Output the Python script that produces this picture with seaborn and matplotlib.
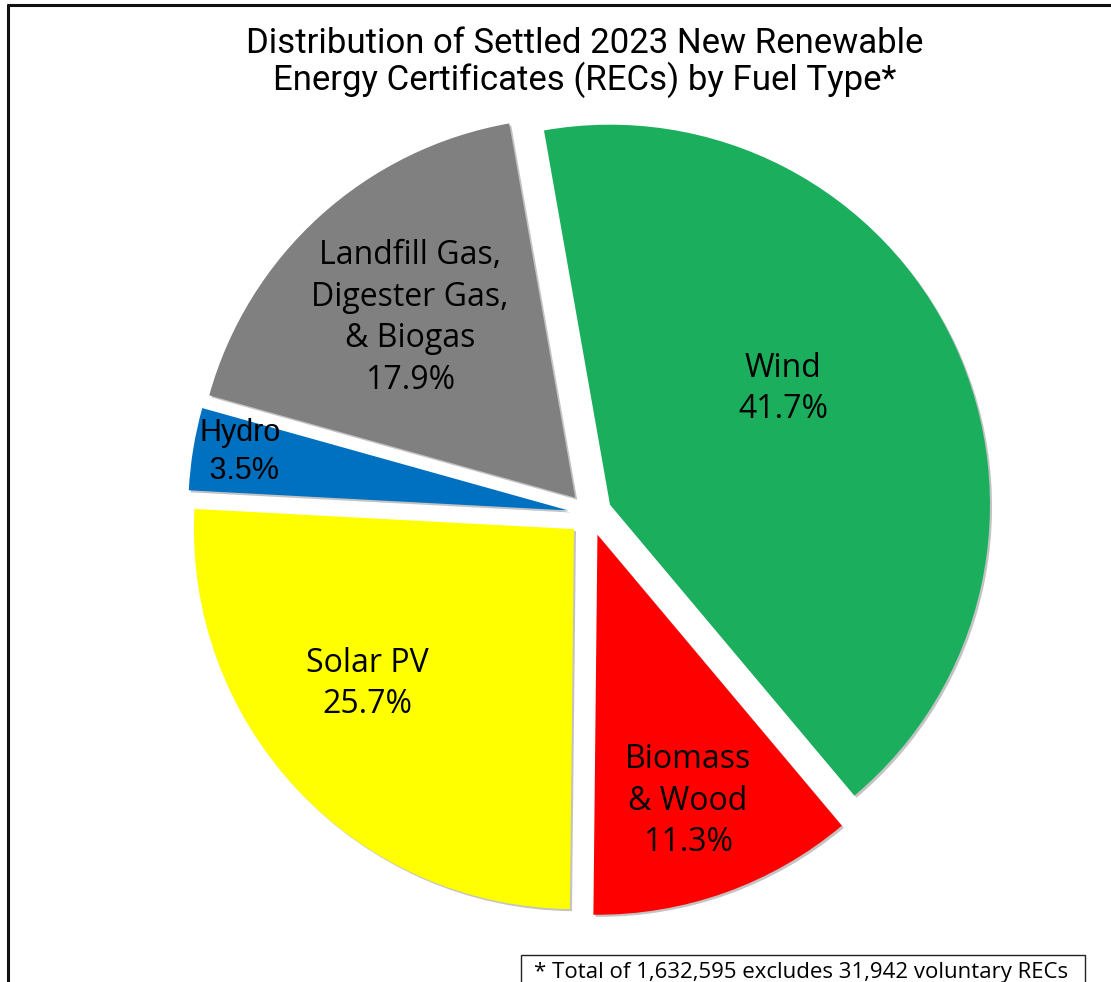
import matplotlib
matplotlib.use("Agg")
import matplotlib.pyplot as plt
import matplotlib.patheffects as pe
from matplotlib.lines import Line2D
from matplotlib.patches import Rectangle
import seaborn as sns

# Fuel types in clockwise order, starting from the top
fuel_types = ["Wind", "Biomass\n& Wood", "Solar PV", "Hydro",
              "Landfill Gas,\nDigester Gas,\n& Biogas"]
shares = [41.7, 11.3, 25.7, 3.5, 17.9]
slice_colors = ["#1BAF5D", "#FF0000", "#FFFF00", "#0070C0", "#808080"]

title_lines = ["Distribution of Settled 2023 New Renewable",
               "Energy Certificates (RECs) by Fuel Type*"]
footnote = "* Total of 1,632,595 excludes 31,942 voluntary RECs"

sns.set_theme(style="white")
plt.rcParams["font.family"] = ["Open Sans", "DejaVu Sans"]

W, H = 1111, 982
fig = plt.figure(figsize=(W / 100, H / 100), dpi=100)
fig.patch.set_facecolor("white")

# pie centre in pixels and radius in pixels per data unit
cx, cy, rpx = 590, 514, 380
ax = fig.add_axes([0, 0, 1, 1])
wedges, _ = ax.pie(
    shares,
    colors=slice_colors,
    startangle=100,
    counterclock=False,
    explode=[0.058] * len(shares),
    wedgeprops=dict(linewidth=0),
)
for w in wedges:
    w.set_path_effects([
        pe.SimplePatchShadow(offset=(1.5, -1.5), shadow_rgbFace="#555555", alpha=0.35),
        pe.Normal(),
    ])
ax.set_xlim(-cx / rpx, (W - cx) / rpx)
ax.set_ylim(-(H - cy) / rpx, cy / rpx)
ax.set_aspect("auto")
ax.axis("off")


def px(x, y):
    return (x - cx) / rpx, (cy - y) / rpx


# label block centres (pixels) for each slice
label_pos = [(783, 389), (688, 801), (367, 684), (240, 452), (410, 318)]
for name, val, (lx, ly) in zip(fuel_types, shares, label_pos):
    fam = ["Liberation Sans", "DejaVu Sans"] if name == "Hydro" else ["Open Sans", "DejaVu Sans"]
    pct = f"{val:.1f}%"
    if name == "Hydro":
        pct = " " + pct
    ax.text(*px(lx, ly), f"{name}\n{pct}", ha="center", va="center",
            multialignment="center", fontsize=23 if name != "Hydro" else 22,
            family=fam, color="black", linespacing=1.35)

# title
for line, base in zip(title_lines, (53, 90)):
    fig.text(585 / W, 1 - base / H, line, ha="center", va="baseline",
             fontsize=25, family=["Roboto", "DejaVu Sans"], color="black")

# outer frame (top and left edges)
fig.add_artist(Line2D([7.5 / W, 1], [1 - 5 / H, 1 - 5 / H], color="#111111", lw=2.2,
                      transform=fig.transFigure))
fig.add_artist(Line2D([7.5 / W, 7.5 / W], [0, 1 - 5 / H], color="#111111", lw=2.2,
                      transform=fig.transFigure))

# footnote box
fig.add_artist(Rectangle((521 / W, -10 / H), (1085 - 521) / W, (H - 955 + 10) / H,
                         transform=fig.transFigure, facecolor="white",
                         edgecolor="#222222", lw=1.0))
fig.text(534 / W, 1 - 978 / H, footnote, ha="left", va="baseline", fontsize=16,
         color="black")

fig.savefig("out.png", dpi=100)
